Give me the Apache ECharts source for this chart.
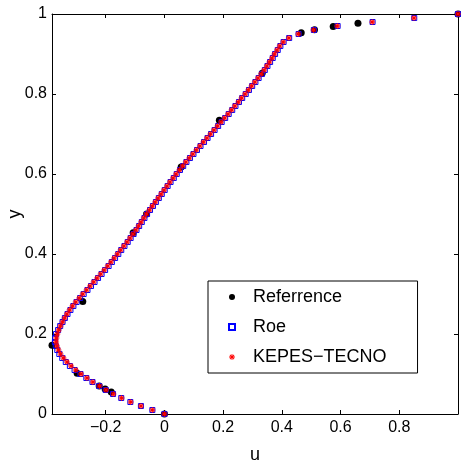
<!DOCTYPE html>
<html>
<head>
<meta charset="utf-8">
<script src="https://cdn.jsdelivr.net/npm/echarts@6/dist/echarts.min.js"></script>
<style>html,body{margin:0;padding:0;background:#fff}#c{width:461px;height:460px}</style>
</head>
<body>
<div id="c"></div>
<script>
// Reference (Ghia) data
var refY = [1.0000, 0.9766, 0.9688, 0.9609, 0.9531, 0.8516, 0.7344, 0.6172, 0.5000, 0.4531, 0.2813, 0.1719, 0.1016, 0.0703, 0.0625, 0.0547, 0.0000];
var refU = [1.00000, 0.65928, 0.57492, 0.51117, 0.46604, 0.33304, 0.18719, 0.05702, -0.06080, -0.10648, -0.27805, -0.38289, -0.29730, -0.22220, -0.20196, -0.18109, 0.00000];

// Simulation sample heights
var simY = [0.00,0.01,0.02,0.03,0.04,0.05,0.06,0.07,0.08,0.09,
  0.10,0.11,0.12,0.13,0.14,0.15,0.16,0.17,0.18,0.19,
  0.20,0.21,0.22,0.23,0.24,0.25,0.26,0.27,0.28,0.29,
  0.30,0.31,0.32,0.33,0.34,0.35,0.36,0.37,0.38,0.39,
  0.40,0.41,0.42,0.43,0.44,0.45,0.46,0.47,0.48,0.49,
  0.50,0.51,0.52,0.53,0.54,0.55,0.56,0.57,0.58,0.59,
  0.60,0.61,0.62,0.63,0.64,0.65,0.66,0.67,0.68,0.69,
  0.70,0.71,0.72,0.73,0.74,0.75,0.76,0.77,0.78,0.79,
  0.80,0.81,0.82,0.83,0.84,0.85,0.86,0.87,0.88,0.89,
  0.90,0.91,0.92,0.93,0.94,0.95,0.96,0.97,0.98,0.99,1.00];

var kepesU = [0, -0.041, -0.080, -0.115, -0.146, -0.174, -0.199, -0.221, -0.244, -0.264,
  -0.284, -0.302, -0.318, -0.332, -0.344, -0.354, -0.361, -0.366, -0.369, -0.368,
  -0.365, -0.360, -0.354, -0.347, -0.340, -0.332, -0.323, -0.313, -0.302, -0.290,
  -0.278, -0.265, -0.253, -0.241, -0.229, -0.217, -0.205, -0.193, -0.182, -0.171,
  -0.160, -0.149, -0.138, -0.127, -0.117, -0.107, -0.097, -0.088, -0.079, -0.070,
  -0.061, -0.051, -0.041, -0.031, -0.021, -0.011, -0.001, 0.009, 0.019, 0.030,
  0.040, 0.051, 0.062, 0.073, 0.085, 0.097, 0.109, 0.121, 0.133, 0.145,
  0.157, 0.169, 0.181, 0.193, 0.205, 0.217, 0.229, 0.240, 0.252, 0.263,
  0.275, 0.286, 0.297, 0.308, 0.319, 0.330, 0.340, 0.349, 0.358, 0.367,
  0.375, 0.384, 0.393, 0.405, 0.424, 0.456, 0.508, 0.589, 0.708, 0.850, 1.000];

var roeU = [0, -0.041, -0.080, -0.116, -0.147, -0.175, -0.200, -0.222, -0.245, -0.266,
  -0.286, -0.306, -0.322, -0.336, -0.348, -0.358, -0.365, -0.370, -0.373, -0.372,
  -0.369, -0.362, -0.355, -0.347, -0.339, -0.330, -0.320, -0.310, -0.299, -0.287,
  -0.275, -0.262, -0.250, -0.238, -0.226, -0.214, -0.202, -0.190, -0.179, -0.168,
  -0.157, -0.147, -0.136, -0.125, -0.115, -0.105, -0.095, -0.086, -0.077, -0.068,
  -0.059, -0.049, -0.039, -0.029, -0.019, -0.009, 0.001, 0.011, 0.021, 0.032,
  0.042, 0.053, 0.064, 0.075, 0.087, 0.099, 0.111, 0.123, 0.135, 0.147,
  0.159, 0.171, 0.183, 0.195, 0.207, 0.219, 0.231, 0.242, 0.254, 0.265,
  0.277, 0.288, 0.299, 0.310, 0.321, 0.332, 0.342, 0.351, 0.360, 0.369,
  0.377, 0.386, 0.395, 0.406, 0.425, 0.457, 0.509, 0.590, 0.709, 0.851, 1.000];

var xTicks = [-0.2, 0, 0.2, 0.4, 0.6, 0.8];
var yTicks = [0, 0.2, 0.4, 0.6, 0.8, 1];
var xMin = -0.38289, xMax = 1, yMin = 0, yMax = 1;

function pairs(us, ys) { var out = []; for (var i = 0; i < us.length; i++) out.push([us[i], ys[i]]); return out; }
function fmt(v) { return String(+v.toFixed(2)).replace('-', '\u2212'); }

var FONT = 'Liberation Sans';
var asterisk = 'path://M0 4.3H10V5.7H0Z M4.3 0H5.7V10H4.3Z M1 2L2 1L9 8L8 9Z M8 1L9 2L2 9L1 8Z';
var square = 'path://M0 0H10V10H0Z';

var chart = echarts.init(document.getElementById('c'), null, {renderer: 'canvas'});
var axisLine = {show: true, onZero: false, lineStyle: {color: '#000', width: 1}};
var tickStyle = {show: true, inside: true, length: 4, lineStyle: {color: '#000', width: 1}};

chart.setOption({
  animation: false,
  backgroundColor: '#fff',
  grid: {left: 52, right: 3, top: 14, bottom: 46, containLabel: false, outerBoundsMode: 'none'},
  legend: {
    orient: 'vertical', left: 208, top: 281,
    padding: [7, 31, 7, 20],
    itemWidth: 32, itemHeight: 6, itemGap: 12,
    symbolKeepAspect: true,
    backgroundColor: '#fff', borderColor: '#000', borderWidth: 1,
    textStyle: {fontSize: 18, fontFamily: FONT, color: '#000'},
    data: ['Referrence', 'Roe', 'KEPES\u2212TECNO']
  },
  xAxis: [{
    type: 'value', min: xMin, max: xMax, position: 'bottom',
    name: 'u', nameLocation: 'middle', nameGap: 32, nameMoveOverlap: false,
    nameTextStyle: {fontSize: 18, fontFamily: FONT, color: '#000'},
    axisLine: axisLine, splitLine: {show: false},
    axisTick: Object.assign({customValues: xTicks}, tickStyle),
    axisLabel: {customValues: xTicks, formatter: fmt, fontSize: 16, fontFamily: FONT, color: '#000', margin: 6}
  }, {
    type: 'value', min: xMin, max: xMax, position: 'top',
    axisLine: axisLine, splitLine: {show: false},
    axisTick: Object.assign({customValues: xTicks}, tickStyle),
    axisLabel: {show: false}
  }],
  yAxis: [{
    type: 'value', min: yMin, max: yMax, position: 'left',
    name: 'y', nameLocation: 'middle', nameGap: 28, nameRotate: 90, nameMoveOverlap: false,
    nameTextStyle: {fontSize: 18, fontFamily: FONT, color: '#000'},
    axisLine: axisLine, splitLine: {show: false},
    axisTick: Object.assign({customValues: yTicks}, tickStyle),
    axisLabel: {customValues: yTicks, formatter: fmt, fontSize: 16, fontFamily: FONT, color: '#000', margin: 5}
  }, {
    type: 'value', min: yMin, max: yMax, position: 'right',
    axisLine: axisLine, splitLine: {show: false},
    axisTick: Object.assign({customValues: yTicks}, tickStyle),
    axisLabel: {show: false}
  }],
  series: [{
    name: 'Referrence', type: 'scatter', xAxisIndex: 0, yAxisIndex: 0, clip: false,
    symbol: 'circle', symbolSize: 7,
    itemStyle: {color: '#000', opacity: 1},
    data: pairs(refU, refY)
  }, {
    name: 'Roe', type: 'scatter', xAxisIndex: 0, yAxisIndex: 0, clip: false,
    symbol: square, symbolSize: 5, symbolKeepAspect: true,
    itemStyle: {color: 'rgba(255,255,255,0)', borderColor: '#0000ff', borderWidth: 1, opacity: 1},
    data: pairs(roeU, simY)
  }, {
    name: 'KEPES\u2212TECNO', type: 'scatter', xAxisIndex: 0, yAxisIndex: 0, clip: false,
    symbol: asterisk, symbolSize: 6, symbolKeepAspect: true,
    itemStyle: {color: '#ff0000', borderWidth: 0, opacity: 1},
    data: pairs(kepesU, simY)
  }]
});
</script>
</body>
</html>
